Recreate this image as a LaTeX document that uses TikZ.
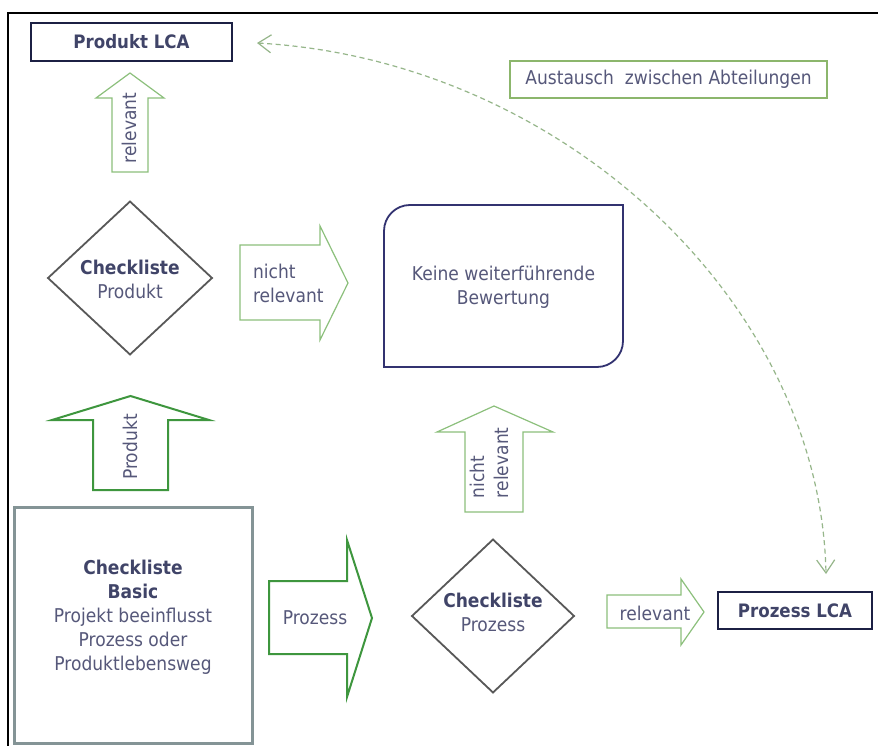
\documentclass[tikz,border=0pt]{standalone}
\usepackage{fontspec}
\setmainfont{DejaVu Sans}[FakeStretch=0.9]
\usetikzlibrary{shapes.geometric,arrows.meta}

\definecolor{txt}{RGB}{86,88,122}
\definecolor{txtb}{RGB}{64,68,104}
\definecolor{navy}{RGB}{28,32,68}
\definecolor{navyb}{RGB}{50,50,112}
\definecolor{diag}{RGB}{88,88,88}
\definecolor{lgreen}{RGB}{140,192,124}
\definecolor{dgreen}{RGB}{62,150,62}
\definecolor{slate}{RGB}{132,148,150}
\definecolor{xgreen}{RGB}{140,182,108}
\definecolor{dashc}{RGB}{150,182,138}

\newcommand\headtxt[1]{{\color{txtb}\bfseries #1}}

\tikzset{
  every node/.style={inner sep=0pt, outer sep=0pt, text=txt},
  lcabox/.style={draw=navy, line width=2.4pt, rectangle},
  xbox/.style={draw=xgreen, line width=1.3pt, rectangle},
  basicbox/.style={draw=slate, line width=3pt, rectangle},
  checkdiamond/.style={draw=diag, line width=1.8pt, diamond, align=center},
  lightarrow/.style={draw=lgreen, line width=1.2pt, line join=miter},
  darkarrow/.style={draw=dgreen, line width=2pt, line join=miter},
  xline/.style={draw=dashc, line width=1.2pt, dash pattern=on 5pt off 3.5pt,
    {Straight Barb[length=13pt,width=18pt,line width=1.2pt]}-{Straight Barb[length=13pt,width=18pt,line width=1.2pt]}},
}

\begin{document}
\begin{tikzpicture}[x=1pt, y=-1pt, font=\fontsize{19}{24}\selectfont]
\useasboundingbox[fill=white] (0,0) rectangle (878,746);

% frame lines on the left and top
\draw[black, line width=2.2pt] (8,746) -- (8,13) -- (879,13);

% result boxes
\node[lcabox, minimum width=201, minimum height=38] (plca) at (131.5,42)
  {\fontsize{18.5}{22}\selectfont\headtxt{Produkt LCA}};
\node[lcabox, minimum width=154, minimum height=37] (zlca) at (795,610.5)
  {\fontsize{18.5}{22}\selectfont\headtxt{Prozess LCA}};

% exchange note
\node[xbox, minimum width=317, minimum height=37] (xchg) at (668.5,79.5)
  {Austausch\ \ zwischen Abteilungen};

% no further assessment box: rounded top-left and bottom-right corners
\node[minimum width=239, minimum height=162] (keine) at (503.5,286) {};
\draw[navyb, line width=1.8pt]
  (keine.south west) -- ([yshift=-26pt]keine.north west)
  arc[start angle=180, end angle=90, radius=26pt]
  -- (keine.north east) -- ([yshift=26pt]keine.south east)
  arc[start angle=0, end angle=-90, radius=26pt] -- cycle;
\node[align=center] (keinelbl) at (503.5,287)
  {Keine weiterführende\\Bewertung};

% basic checklist
\node[basicbox, minimum width=238, minimum height=236] (basic) at (133,625) {};
\node[align=center] (basiclbl) at (133,617)
  {\headtxt{Checkliste}\\\headtxt{Basic}\\Projekt beeinflusst\\Prozess oder\\Produktlebensweg};

% decision diamonds
\node[checkdiamond, minimum width=164, minimum height=153] (dprod) at (130,278) {};
\node[align=center] (dprodlbl) at (130,279) {\headtxt{Checkliste}\\Produkt};
\node[checkdiamond, minimum width=162, minimum height=153] (dproz) at (493,616) {};
\node[align=center] (dprozlbl) at (493,612) {\headtxt{Checkliste}\\Prozess};

% block arrows
\draw[lightarrow] (112,172) -- (112,98) -- (96,98) -- (130,73) -- (164,98)
  -- (148,98) -- (148,172) -- cycle;
\node[rotate=90] (arel1) at (129,128) {relevant};

\draw[darkarrow] (93,490) -- (93,420) -- (52,420) -- (130.5,396) -- (209,420)
  -- (168,420) -- (168,490) -- cycle;
\node[rotate=90] (aprod) at (130,447) {Produkt};

\draw[lightarrow] (240,245) -- (320,245) -- (320,226) -- (348,283) -- (320,340)
  -- (320,320) -- (240,320) -- cycle;
\node[align=left, anchor=west] (anr1) at (253,283) {nicht\\relevant};

\draw[lightarrow] (465,512) -- (465,432) -- (437,432) -- (494,406) -- (553,432)
  -- (523,432) -- (523,512) -- cycle;
\node[rotate=90, align=left, anchor=west] (anr2) at (489,498) {nicht\\relevant};

\draw[darkarrow] (269,581) -- (347,581) -- (347,540) -- (372,618) -- (347,697)
  -- (347,654) -- (269,654) -- cycle;
\node (aproz) at (315,618) {Prozess};

\draw[lightarrow] (607,595) -- (681,595) -- (681,579) -- (704,612) -- (681,645)
  -- (681,628) -- (607,628) -- cycle;
\node (arel2) at (655,613) {relevant};

% exchange between departments
\coordinate (xa) at (257,43);
\coordinate (xb) at (826,574);
\draw[xline] (xa) .. controls (560,60) and (820,300) .. (xb);
\end{tikzpicture}
\end{document}
